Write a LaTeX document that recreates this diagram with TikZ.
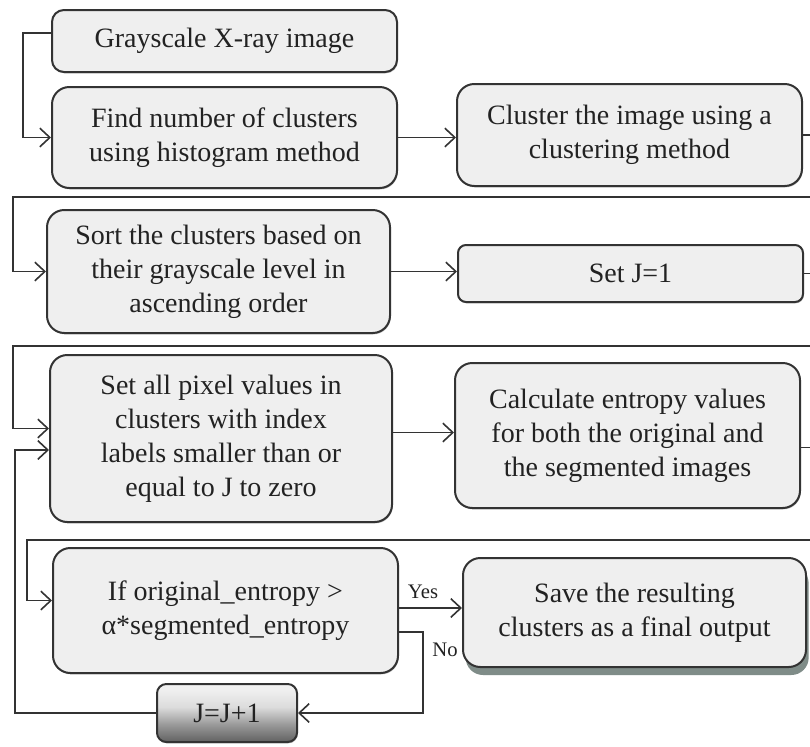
\documentclass[tikz,border=0pt]{standalone}
\usepackage{fontspec}
\setmainfont{Liberation Serif}
\usetikzlibrary{arrows.meta,shadows,calc}
\definecolor{linec}{HTML}{333333}
\definecolor{boxfill}{HTML}{EFEFEF}
\definecolor{txt}{HTML}{222222}
\definecolor{shadowc}{HTML}{7F8C88}
% light top fading into a dark gray bottom edge
\pgfdeclareverticalshading{buttonshade}{100bp}{
  color(0bp)=(black!62); color(25bp)=(black!62); color(40bp)=(black!40);
  color(55bp)=(black!14); color(70bp)=(black!6); color(100bp)=(black!3)}
\begin{document}
\begin{tikzpicture}[x=0.75pt,y=-0.75pt,
  box/.style={draw=linec, line width=1.5pt, fill=boxfill, rounded corners=13pt,
    align=center, text=txt, inner sep=0pt,
    font=\fontsize{21}{25.5}\selectfont,
    drop shadow={shadow xshift=0.6pt, shadow yshift=-1pt, fill=gray!55, opacity=1}},
  link/.style={draw=linec, line width=1.45pt,
    -{Straight Barb[length=7.5pt,width=14pt,line width=1.2pt]}},
  lbl/.style={text=txt, font=\fontsize{15.5}{17}\selectfont, inner sep=0pt},
]
\useasboundingbox (0,0) rectangle (810,746);
\clip (0,0) rectangle (810,746);
\fill[white] (0,0) rectangle (810,746);

% row 1
\node[box, rounded corners=9pt, minimum width=258.75pt, minimum height=46.5pt] (b1) at (224.5,41) {Grayscale X-ray image};
\node[box, minimum width=258.75pt, minimum height=75.75pt] (b2) at (224.5,137.5) {Find number of clusters\\using histogram method};
\node[box, minimum width=258.75pt, minimum height=76.5pt] (b3) at (629.5,135) {Cluster the image using a\\clustering method};

% row 2
\node[box, minimum width=257.25pt, minimum height=92.25pt] (b4) at (218.5,271.5) {Sort the clusters based on\\their grayscale level in\\ascending order};
\node[box, rounded corners=6pt, minimum width=258.75pt, minimum height=42.75pt] (b5) at (630.5,273.5) {Set J=1};

% row 3
\node[box, minimum width=256.5pt, minimum height=125.25pt] (b6) at (221,438.5) {Set all pixel values in\\clusters with index\\labels smaller than or\\equal to J to zero};
\node[box, minimum width=258.75pt, minimum height=108.75pt] (b7) at (627.5,435.5) {Calculate entropy values\\for both the original and\\the segmented images};

% row 4
\node[box, minimum width=258.75pt, minimum height=93.75pt] (b8) at (225.5,610.5) {If original\_entropy >\\α*segmented\_entropy};
\node[box, minimum width=257.25pt, minimum height=81.75pt,
  drop shadow={shadow xshift=2pt, shadow yshift=-6pt, fill=shadowc, opacity=1}] (b9) at (634.5,612.5) {Save the resulting\\clusters as a final output};
\node[box, rounded corners=7pt, minimum width=105pt, minimum height=43.5pt,
  shading=buttonshade] (b10) at (227,713) {J=J+1};

% connectors
\draw[link] ($(b1.west)+(0,-8)$) -- ++(-28,0) |- (b2.west);
\draw[link] (b2.east) -- (b2.east -| b3.west);
\draw[link] (b3.east) -- ++(40,0) |- (13,197) |- (b4.west);
\draw[link] (b4.east) -- (b4.east -| b5.west);
\draw[link] (b5.east) -- ++(40,0) |- (13,346) |- ($(b6.west)+(0,-10)$);
\draw[link] ($(b6.east)+(0,-6)$) -- ($(b6.east -| b7.west)+(0,-6)$);
\draw[link] ($(b7.east)+(0,12)$) -- ++(40,0) |- (27,540) |- ($(b8.west)+(0,-10)$);
\draw[link] ($(b8.east)+(0,-2.5)$) -- ($(b8.east -| b9.west)+(0,-2.5)$);
\draw[link] ($(b8.east)+(0,21.5)$) -- (423,632) |- (b10.east);
\draw[link] (b10.west) -- (15,713) |- ($(b6.west)+(0,11.5)$);

% branch labels
\node[lbl] (yes) at (423,592) {Yes};
\node[lbl] (no) at (445,650) {No};
\end{tikzpicture}
\end{document}
